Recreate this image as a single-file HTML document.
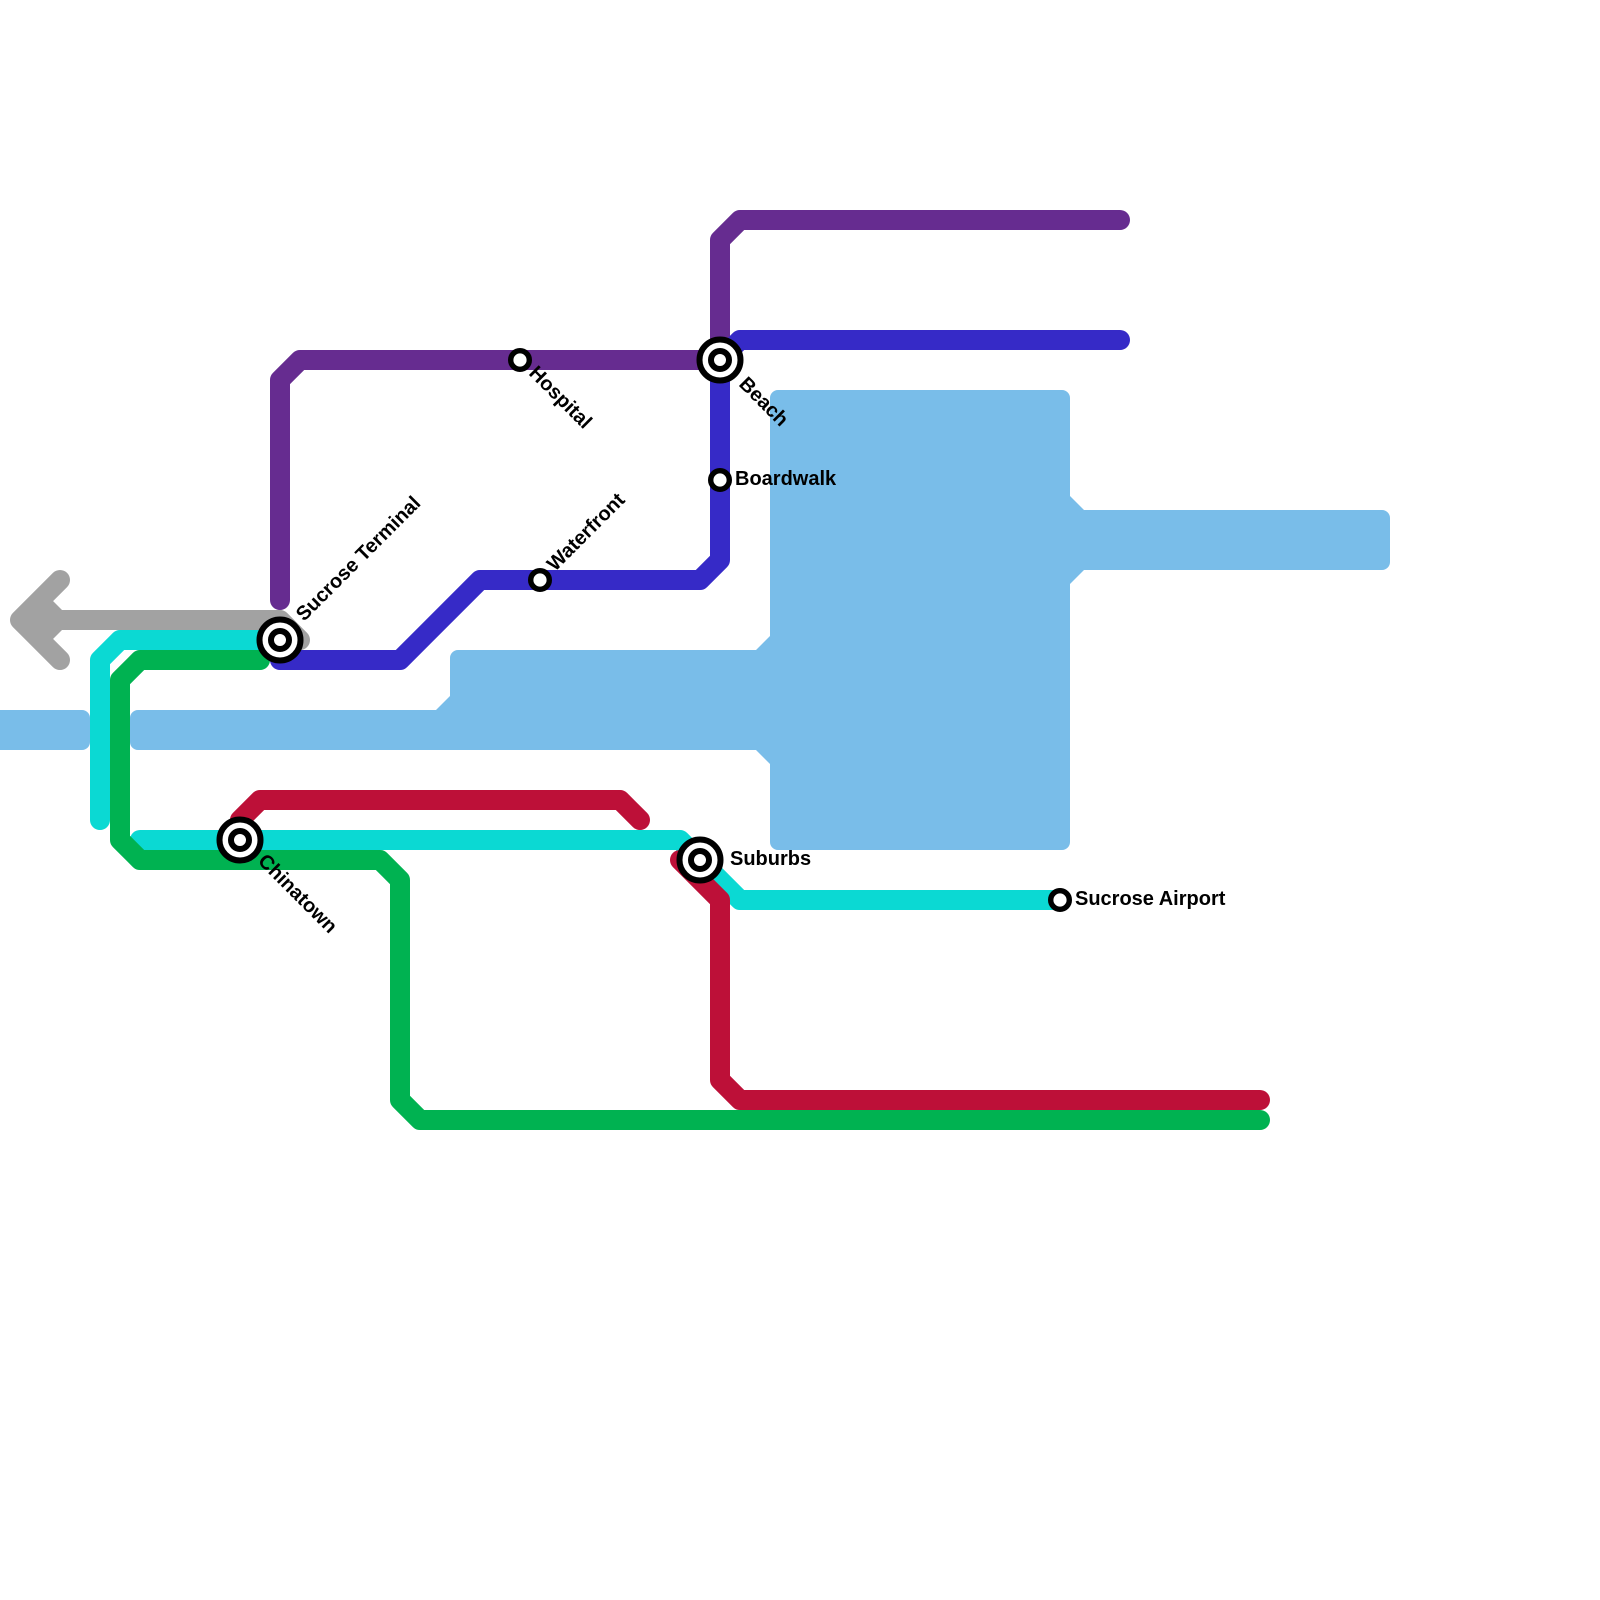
<!DOCTYPE html>
<html>
<head>
<meta charset="utf-8">
<style>
html,body{margin:0;padding:0;background:#fff;width:1600px;height:1600px;overflow:hidden}
svg{display:block}
text{font-family:"Liberation Sans",Arial,sans-serif;font-weight:bold;font-size:20px;fill:#000}
.l{fill:none;stroke-width:20;stroke-linecap:round;stroke-linejoin:round}
</style>
</head>
<body>
<svg width="1600" height="1600" viewBox="0 0 1600 1600" xmlns="http://www.w3.org/2000/svg">
<rect width="1600" height="1600" fill="#fff"/>
<g fill="#79bde9">
<path d="M0 710H82a8 8 0 0 1 8 8V742a8 8 0 0 1-8 8H0Z"/>
<path d="M138 710H436L450 696V658a8 8 0 0 1 8-8H756L770 636V398a8 8 0 0 1 8-8H1062a8 8 0 0 1 8 8V496L1084 510H1382a8 8 0 0 1 8 8V562a8 8 0 0 1-8 8H1084L1070 584V842a8 8 0 0 1-8 8H778a8 8 0 0 1-8-8V764L756 750H138a8 8 0 0 1-8-8V718a8 8 0 0 1 8-8Z"/>
</g>
<path class="l" stroke="#a2a2a2" d="M60 580L20 620L60 660M20 620H280L300 640"/>
<path fill="#a2a2a2" d="M20 620L46 594L66 614V626L46 646Z"/>
<path class="l" stroke="#0bd9d3" d="M100 820V660L120 640H280"/>
<path class="l" stroke="#0bd9d3" d="M140 840H680L740 900H1060"/>
<path class="l" stroke="#662c90" d="M280 600V380L300 360H720"/>
<path class="l" stroke="#662c90" d="M720 360V240L740 220H1120"/>
<path class="l" stroke="#362ac7" d="M280 660H400L480 580H700L720 560V360L740 340H1120"/>
<path class="l" stroke="#00b251" d="M260 660H140L120 680V840L140 860H380L400 880V1100L420 1120H1260"/>
<path class="l" stroke="#bd1038" d="M240 840V820L260 800H620L640 820"/>
<path class="l" stroke="#bd1038" d="M680 860L720 900V1080L740 1100H1260"/>
<g fill="#fff" stroke="#000">
<g stroke-width="6"><circle cx="280" cy="640" r="20.5"/><circle cx="280" cy="640" r="9"/></g>
<g stroke-width="6"><circle cx="240" cy="840" r="20.5"/><circle cx="240" cy="840" r="9"/></g>
<g stroke-width="6"><circle cx="720" cy="360" r="20.5"/><circle cx="720" cy="360" r="9"/></g>
<g stroke-width="6"><circle cx="700" cy="860" r="20.5"/><circle cx="700" cy="860" r="9"/></g>
<g stroke-width="5.4"><circle cx="520" cy="360" r="9.3"/><circle cx="540" cy="580" r="9.3"/><circle cx="720" cy="480" r="9.3"/><circle cx="1060" cy="900" r="9.3"/></g>
</g>
<text x="735" y="485">Boardwalk</text>
<text x="730" y="865">Suburbs</text>
<text x="1075" y="905">Sucrose Airport</text>
<text transform="translate(304 622) rotate(-45)">Sucrose Terminal</text>
<text transform="translate(555 572) rotate(-45)">Waterfront</text>
<text transform="translate(528 374) rotate(45)">Hospital</text>
<text transform="translate(738 385) rotate(45)">Beach</text>
<text transform="translate(257 862) rotate(45)">Chinatown</text>
</svg>
</body>
</html>
